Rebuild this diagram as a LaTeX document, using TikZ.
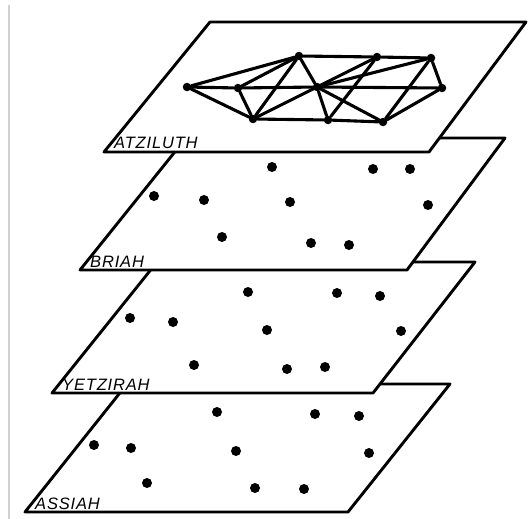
\documentclass[tikz,border=0pt]{standalone}
\usepackage{fontspec}
\setmainfont{Liberation Sans}
\begin{document}
\begin{tikzpicture}[x=1pt,y=-1pt,
  plane/.style={draw=black, fill=white, line width=2.9pt, line join=round},
  dot/.style={circle, fill=black, inner sep=0pt, minimum size=10pt},
  gnode/.style={circle, fill=black, inner sep=0pt, minimum size=8.5pt},
  edge/.style={line width=3.1pt, line cap=round},
  lbl/.style={anchor=base west, inner sep=0pt,
    font=\fontsize{16.5}{16.5}\selectfont\itshape\addfontfeature{LetterSpace=5}}]
\useasboundingbox (0,0) rectangle (530,519);
\draw[black!18, line width=1.2pt] (9,5) -- (9,519);

% ---- Assiah ----
\draw[plane] (25,512) -- (348,512) -- (450,384) -- (127,384) -- cycle;
\node[dot] (s1) at (217,412) {};
\node[dot] (s2) at (315,414) {};
\node[dot] (s3) at (359,416) {};
\node[dot] (s4) at (94,445) {};
\node[dot] (s5) at (131,448) {};
\node[dot] (s6) at (236,451) {};
\node[dot] (s7) at (369,453) {};
\node[dot] (s8) at (147,483) {};
\node[dot] (s9) at (255,488) {};
\node[dot] (s10) at (304,489) {};
\node[lbl] (assiah) at (35,509) {ASSIAH};

% ---- Yetzirah ----
\draw[plane] (52,393) -- (373,393) -- (475,262) -- (157,262) -- cycle;
\node[dot] (y1) at (248,292) {};
\node[dot] (y2) at (337,293) {};
\node[dot] (y3) at (380,296) {};
\node[dot] (y4) at (130,318) {};
\node[dot] (y5) at (173,322) {};
\node[dot] (y6) at (267,330) {};
\node[dot] (y7) at (401,331) {};
\node[dot] (y8) at (194,365) {};
\node[dot] (y9) at (287,369) {};
\node[dot] (y10) at (325,367) {};
\node[lbl] (yetzirah) at (62,390) {YETZIRAH};

% ---- Briah ----
\draw[plane] (80,270) -- (407,270) -- (505,138) -- (186,138) -- cycle;
\node[dot] (b1) at (272,167) {};
\node[dot] (b2) at (373,169) {};
\node[dot] (b3) at (410,169) {};
\node[dot] (b4) at (154,196) {};
\node[dot] (b5) at (204,200) {};
\node[dot] (b6) at (290,202) {};
\node[dot] (b7) at (428,205) {};
\node[dot] (b8) at (222,237) {};
\node[dot] (b9) at (311,243) {};
\node[dot] (b10) at (349,245) {};
\node[lbl] (briah) at (90,267) {BRIAH};

% ---- Atziluth ----
\draw[plane] (104,152) -- (429,152) -- (526,22) -- (210,22) -- cycle;
\node[gnode] (A) at (187,87) {};
\node[gnode] (B) at (238,88) {};
\node[gnode] (C) at (299,56) {};
\node[gnode] (D) at (253,119) {};
\node[gnode] (E) at (317,87) {};
\node[gnode] (F) at (377,57) {};
\node[gnode] (G) at (431,58) {};
\node[gnode] (H) at (442,88) {};
\node[gnode] (I) at (328,120) {};
\node[gnode] (J) at (383,122) {};
\foreach \u/\v in {A/C, A/B, B/E, E/H, A/D, B/C, B/D, C/D, C/E, E/I, C/F, F/G,
                   D/E, E/F, E/G, E/J, F/I, G/J, G/H, H/J, D/I, I/J}
  \draw[edge] (\u) -- (\v);
\node[lbl] (atziluth) at (114,148) {ATZILUTH};
\end{tikzpicture}
\end{document}
